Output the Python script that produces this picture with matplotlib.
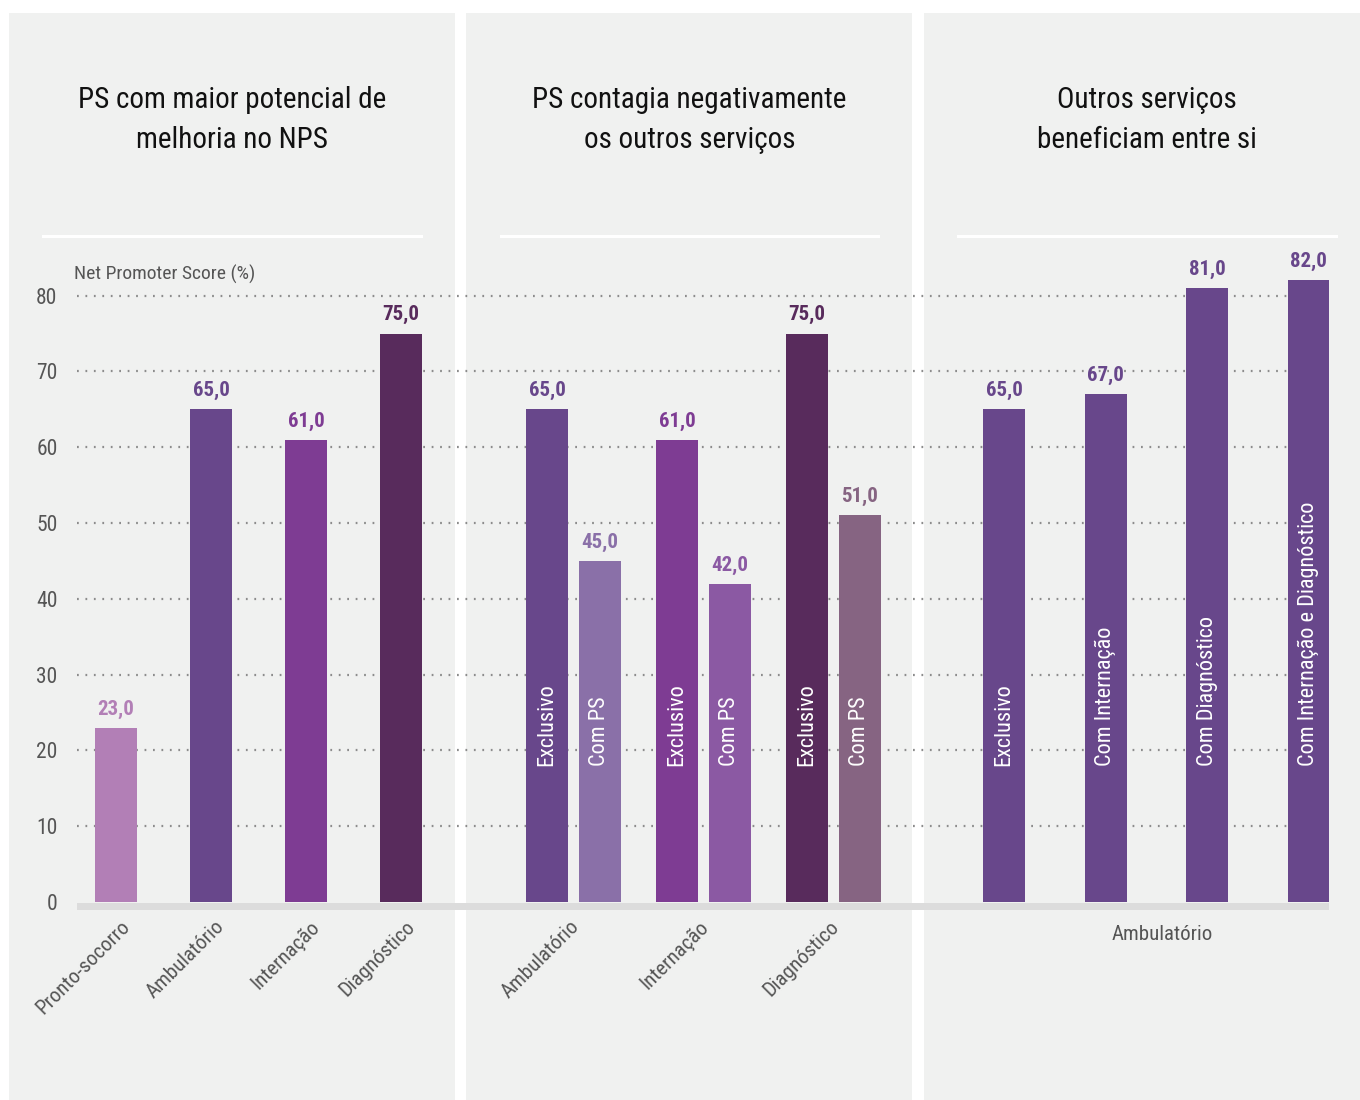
import matplotlib
matplotlib.use("Agg")
import matplotlib.pyplot as plt
from matplotlib.patches import Rectangle

plt.rcParams['font.family'] = ['Liberation Sans Narrow', 'Roboto Condensed', 'DejaVu Sans']

# ---- data ----
panel_titles = [
    "PS com maior potencial de\nmelhoria no NPS",
    "PS contagia negativamente\nos outros serviços",
    "Outros serviços\nbeneficiam entre si",
]

p1_categories = ["Pronto-socorro", "Ambulatório", "Internação", "Diagnóstico"]
p1_values = [23.0, 65.0, 61.0, 75.0]

p2_groups = ["Ambulatório", "Internação", "Diagnóstico"]
p2_exclusivo = [65.0, 61.0, 75.0]
p2_com_ps = [45.0, 42.0, 51.0]
p2_bar_labels = ["Exclusivo", "Com PS"]

p3_group = "Ambulatório"
p3_categories = ["Exclusivo", "Com Internação", "Com Diagnóstico",
                 "Com Internação e Diagnóstico"]
p3_values = [65.0, 67.0, 81.0, 82.0]

y_ticks = [0, 10, 20, 30, 40, 50, 60, 70, 80]
y_label = "Net Promoter Score (%)"

# ---- styles ----
W, H = 1360, 1100
panel_bg = "#f0f1f0"
c_ps = "#b27fb6"
c_amb = "#68478b"
c_int = "#7e3c93"
c_diag = "#582b5c"
c_amb_ps = "#8a70a8"
c_int_ps = "#8b59a3"
c_diag_ps = "#866482"
p1_colors = [c_ps, c_amb, c_int, c_diag]
p2_excl_colors = [c_amb, c_int, c_diag]
p2_ps_colors = [c_amb_ps, c_int_ps, c_diag_ps]
p3_color = c_amb
text_grey = "#555555"

fig = plt.figure(figsize=(W / 100, H / 100), dpi=100)
fig.patch.set_facecolor("white")


def fx(px):
    return px / W


def fy(py):
    return 1 - py / H


# panel backgrounds
panels_px = [(9, 455), (466, 912), (924, 1360)]
for (x0, x1) in panels_px:
    fig.add_artist(Rectangle((fx(x0), 0), fx(x1 - x0), fy(13),
                             transform=fig.transFigure, facecolor=panel_bg,
                             edgecolor="none", zorder=0))

# titles and separator lines
rule_px = [(43, 421), (501, 878), (958, 1336)]
for title, (x0, x1), (r0, r1) in zip(panel_titles, panels_px, rule_px):
    fig.text(fx((r0 + r1) / 2), fy(120), title, ha="center", va="center",
             fontsize=21, color="#111111", linespacing=1.5, zorder=2)
    fig.add_artist(plt.Line2D([fx(r0), fx(r1)], [fy(236), fy(236)],
                              transform=fig.transFigure, color="white",
                              lw=2.2, zorder=2))

# main axes: x in pixel-like layout units, y in NPS value
ax_left, ax_right = 77, 1329
y0_px, px_per_unit = 902, 7.58
ymin, ymax = -1.6, 85
ax_bottom_px = y0_px - ymin * px_per_unit
ax_top_px = y0_px - ymax * px_per_unit
ax = fig.add_axes([fx(ax_left), fy(ax_bottom_px), fx(ax_right - ax_left),
                   (ax_bottom_px - ax_top_px) / H])
ax.set_xlim(ax_left, ax_right)
ax.set_ylim(ymin, ymax)
ax.patch.set_alpha(0)
for s in ax.spines.values():
    s.set_visible(False)
ax.set_xticks([])
ax.set_yticks(y_ticks)
ax.set_yticklabels([str(t) for t in y_ticks], fontsize=15.5, color=text_grey)
ax.tick_params(axis="y", length=0, pad=14)

# dotted gridlines
for t in y_ticks[1:]:
    ax.axhline(t, color="#8c8c8c", lw=1.6, linestyle=(0, (0.8, 3.0)), zorder=1)

# baseline band
ax.axhspan(-1.1, -0.15, xmin=0, xmax=1, color="#dcdcdc", lw=0, zorder=1)

ax.text(ax_left - 3, 81.5, y_label, fontsize=14, color=text_grey,
        ha="left", va="bottom")

bar_w = 42
lbl_fs = 15
inbar_fs = 16
tick_fs = 15


def value_label(x, v, color):
    ax.text(x, v + 1.2, f"{v:.1f}".replace(".", ","), ha="center",
            va="bottom", fontsize=lbl_fs, fontweight="bold", color=color)


def inbar_label(x, text):
    ax.text(x, 18.0, text, rotation=90, ha="center", va="bottom",
            fontsize=inbar_fs, color="white", zorder=4)


def slanted_label(x, text):
    ax.text(x, -2.0, text, rotation=45, rotation_mode="anchor", ha="right",
            va="top", fontsize=tick_fs, color=text_grey)


# panel 1
p1_start, p1_step = 116, 95
for i, (cat, v, c) in enumerate(zip(p1_categories, p1_values, p1_colors)):
    x = p1_start + i * p1_step
    ax.bar(x, v, width=bar_w, color=c, zorder=3)
    value_label(x, v, c)
    slanted_label(x + 4, cat)

# panel 2
p2_start, p2_step, p2_inner = 547, 130, 52.5
for i, g in enumerate(p2_groups):
    xa = p2_start + i * p2_step
    xb = xa + p2_inner
    ax.bar(xa, p2_exclusivo[i], width=bar_w, color=p2_excl_colors[i], zorder=3)
    ax.bar(xb, p2_com_ps[i], width=bar_w, color=p2_ps_colors[i], zorder=3)
    value_label(xa, p2_exclusivo[i], p2_excl_colors[i])
    value_label(xb, p2_com_ps[i], p2_ps_colors[i])
    inbar_label(xa, p2_bar_labels[0])
    inbar_label(xb, p2_bar_labels[1])
    slanted_label((xa + xb) / 2 - 4, g)

# panel 3
p3_start, p3_step = 1004, 101.5
for i, (cat, v) in enumerate(zip(p3_categories, p3_values)):
    x = p3_start + i * p3_step
    ax.bar(x, v, width=bar_w, color=p3_color, zorder=3)
    value_label(x, v, p3_color)
    inbar_label(x, cat)
ax.text(p3_start + 1.5 * p3_step + 6, -3.0, p3_group, ha="center", va="top",
        fontsize=tick_fs, color=text_grey)

fig.savefig("out.png", dpi=100, facecolor=fig.get_facecolor())
